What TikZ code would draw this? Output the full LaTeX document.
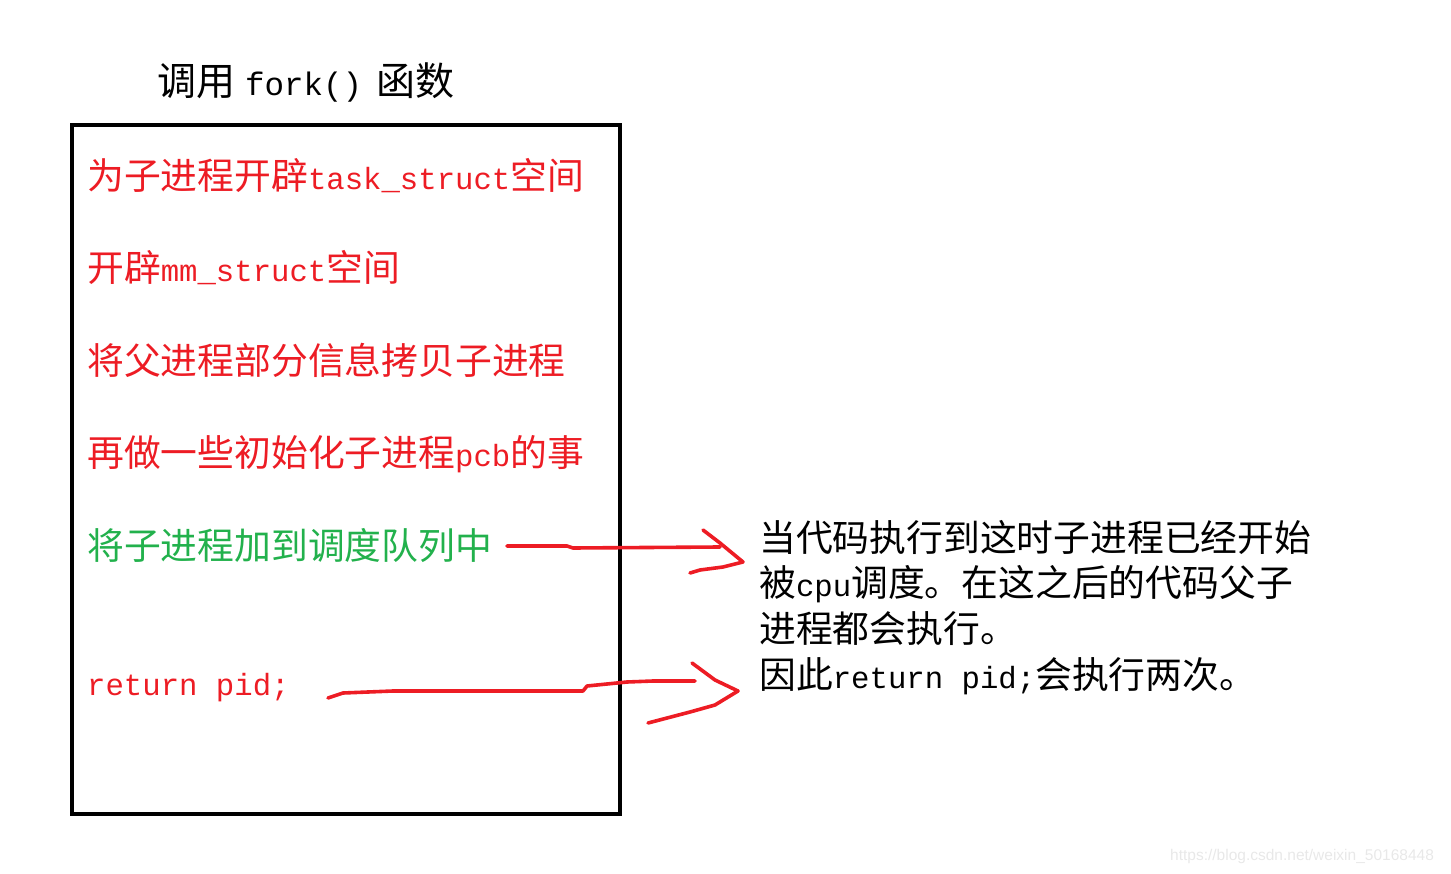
\documentclass[tikz,border=0pt]{standalone}
\usepackage{fontspec}
\newfontfamily\cjk{Noto Sans CJK SC}
\newfontfamily\lat[Scale=0.8333]{Liberation Mono}
\newfontfamily\wmfont{Liberation Sans}
\definecolor{pred}{HTML}{ED1C24}
\definecolor{pgreen}{HTML}{22B14C}
\tikzset{
  txt/.style={anchor=base west, inner sep=0pt, font=\cjk\fontsize{36.8}{40}\selectfont},
  redtxt/.style={txt, text=pred},
  pen/.style={draw=pred, line width=3.6pt, line cap=round, line join=round},
}
\begin{document}
\begin{tikzpicture}[x=1pt,y=-1pt]
\useasboundingbox (0,0) rectangle (1451,874);
\node[txt, font=\cjk\fontsize{39}{42}\selectfont] (title) at (157,96) {调用\hspace{10pt}{\lat fork()}\hspace{14pt}函数};
\draw[line width=4pt] (72,125) rectangle (620,814);
\node[redtxt] (l1) at (87,190) {为子进程开辟{\lat task\_struct}空间};
\node[redtxt] (l2) at (87,282) {开辟{\lat mm\_struct}空间};
\node[redtxt] (l3) at (87,374) {将父进程部分信息拷贝子进程};
\node[redtxt] (l4) at (87,466) {再做一些初始化子进程{\lat pcb}的事};
\node[txt, text=pgreen] (l5) at (87,559) {将子进程加到调度队列中};
\node[redtxt] (l6) at (87,695) {\lat return pid;};
\node[txt] (r1) at (759,551) {当代码执行到这时子进程已经开始};
\node[txt] (r2) at (759,596) {被{\lat cpu}调度。在这之后的代码父子};
\node[txt] (r3) at (759,642) {进程都会执行。};
\node[txt] (r4) at (759,688) {因此{\lat return pid;}会执行两次。};
% arrow 1
\coordinate (a1s) at (507,546);
\coordinate (a1t) at (743,562);
\draw[pen] (a1s) -- (567,546) -- (573,548) -- (720,547);
\draw[pen] (703,530) -- (720,543) -- (a1t);
\draw[pen] (690,573) -- (700,570) -- (723,567) -- (a1t);
% arrow 2
\coordinate (a2s) at (328,698);
\coordinate (a2t) at (738,691);
\draw[pen] (a2s) -- (343,693) -- (393,691) -- (583,691) -- (587,686) -- (627,682) -- (653,681) -- (695,681);
\draw[pen] (692,663) -- (715,680) -- (a2t);
\draw[pen] (648,723) -- (690,712) -- (715,705) -- (a2t);
\node[anchor=west, inner sep=0pt, text=black!9, font=\wmfont\fontsize{15.5}{17}\selectfont] (wm) at (1170,856) {https://blog.csdn.net/weixin\_50168448};
\end{tikzpicture}
\end{document}
